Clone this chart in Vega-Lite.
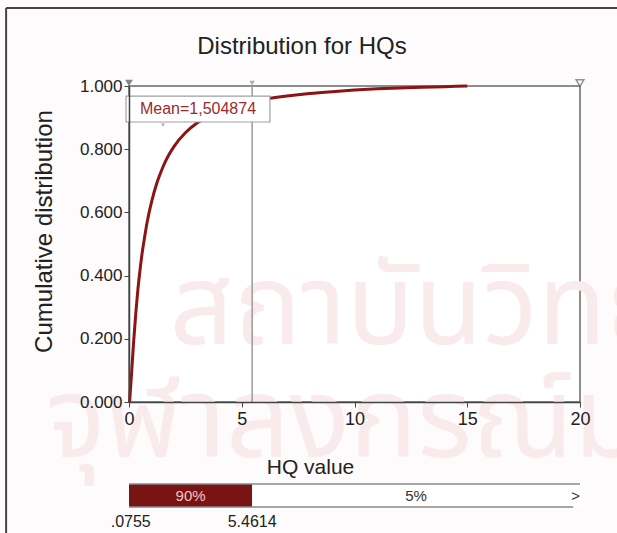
{
  "$schema": "https://vega.github.io/schema/vega-lite/v6.json",
  "width": 451,
  "height": 316,
  "autosize": {"type": "none"},
  "padding": {"left": 129, "top": 86, "right": 37, "bottom": 131},
  "background": "#fdfbfb",
  "config": {
    "view": {"stroke": "#6a6a6a", "strokeWidth": 1.5, "fill": "#ffffff"},
    "font": "Liberation Sans"
  },
  "datasets": {
    "curve": [
      {"hq": 0.03, "cum": 0.0},
      {"hq": 0.05, "cum": 0.025},
      {"hq": 0.0755, "cum": 0.05},
      {"hq": 0.1, "cum": 0.076},
      {"hq": 0.15, "cum": 0.13},
      {"hq": 0.2, "cum": 0.185},
      {"hq": 0.3, "cum": 0.28},
      {"hq": 0.4, "cum": 0.36},
      {"hq": 0.5, "cum": 0.425},
      {"hq": 0.6, "cum": 0.48},
      {"hq": 0.7, "cum": 0.525},
      {"hq": 0.8, "cum": 0.567},
      {"hq": 1.0, "cum": 0.633},
      {"hq": 1.25, "cum": 0.696},
      {"hq": 1.5, "cum": 0.743},
      {"hq": 1.75, "cum": 0.78},
      {"hq": 2.0, "cum": 0.809},
      {"hq": 2.5, "cum": 0.852},
      {"hq": 3.0, "cum": 0.882},
      {"hq": 3.5, "cum": 0.904},
      {"hq": 4.0, "cum": 0.92},
      {"hq": 4.5, "cum": 0.933},
      {"hq": 5.0, "cum": 0.943},
      {"hq": 5.4614, "cum": 0.95},
      {"hq": 6.0, "cum": 0.958},
      {"hq": 7.0, "cum": 0.968},
      {"hq": 8.0, "cum": 0.976},
      {"hq": 9.0, "cum": 0.982},
      {"hq": 10.0, "cum": 0.987},
      {"hq": 11.0, "cum": 0.991},
      {"hq": 12.0, "cum": 0.994},
      {"hq": 13.0, "cum": 0.996},
      {"hq": 14.0, "cum": 0.998},
      {"hq": 15.0, "cum": 1.0}
    ],
    "segments": [
      {"lo": 0, "hi": 5.4614, "pct": "90%"},
      {"lo": 5.4614, "hi": 20, "pct": "5%"}
    ],
    "bounds": [
      {"v": 0.0755, "label": ".0755"},
      {"v": 5.4614, "label": "5.4614"}
    ],
    "watermark": [
      {"line": "สถาบันวิทยบริการ", "wx": 1.8, "wy": 0.184},
      {"line": "จุฬาลงกรณ์มหาวิทยาลัย", "wx": -3.68, "wy": -0.174}
    ],
    "heading": [{"t": "Distribution for HQs", "tx": 7.67, "ty": 1.101}],
    "mean": [{"mean": 1.504874, "label": "Mean=1,504874"}]
  },
  "layer": [
    {
      "data": {"name": "watermark"},
      "mark": {"type": "text", "fontSize": 112, "color": "#f9eaec", "align": "left", "baseline": "alphabetic", "font": "Noto Sans Thai, Noto Sans, DejaVu Sans"},
      "encoding": {
        "x": {"field": "wx", "type": "quantitative"},
        "y": {"field": "wy", "type": "quantitative"},
        "text": {"field": "line"}
      }
    },
    {
      "data": {"name": "bounds"},
      "transform": [{"filter": "datum.v > 1"}],
      "mark": {"type": "rule", "color": "#9a9a9a", "strokeWidth": 1.5},
      "encoding": {
        "x": {"field": "v", "type": "quantitative"},
        "y": {"datum": 0},
        "y2": {"datum": 1}
      }
    },
    {
      "data": {"name": "curve"},
      "mark": {"type": "line", "color": "#8c1414", "strokeWidth": 3, "interpolate": "monotone"},
      "encoding": {
        "x": {
          "field": "hq",
          "type": "quantitative",
          "scale": {"domain": [0, 20], "nice": false, "zero": false},
          "axis": {
            "title": "HQ value",
            "values": [0, 5, 10, 15, 20],
            "format": "d",
            "grid": false,
            "zindex": 1,
            "labelFlush": false,
            "labelFontSize": 18,
            "labelColor": "#222222",
            "labelPadding": 3,
            "tickSize": 5,
            "tickColor": "#444444",
            "domainColor": "#444444",
            "domainWidth": 1.5,
            "titleFontSize": 21,
            "titleFontWeight": "normal",
            "titleColor": "#222222",
            "titleX": 181,
            "titleY": 71,
            "titleBaseline": "alphabetic",
            "titleAlign": "center"
          }
        },
        "y": {
          "field": "cum",
          "type": "quantitative",
          "scale": {"domain": [0, 1], "nice": false, "zero": false},
          "axis": {
            "title": "Cumulative distribution",
            "values": [0, 0.2, 0.4, 0.6, 0.8, 1],
            "format": ".3f",
            "grid": false,
            "zindex": 1,
            "labelFlush": false,
            "labelFontSize": 17,
            "labelColor": "#222222",
            "labelPadding": 2,
            "tickSize": 5,
            "tickColor": "#444444",
            "domainColor": "#444444",
            "domainWidth": 1.5,
            "titleFontSize": 24,
            "titleFontWeight": "normal",
            "titleColor": "#222222",
            "titleX": -85,
            "titleY": 145,
            "titleAngle": -90,
            "titleBaseline": "middle",
            "titleAlign": "center"
          }
        }
      }
    },
    {
      "data": {"name": "heading"},
      "mark": {"type": "text", "fontSize": 24, "color": "#222222", "align": "center", "baseline": "alphabetic"},
      "encoding": {
        "x": {"field": "tx", "type": "quantitative"},
        "y": {"field": "ty", "type": "quantitative"},
        "text": {"field": "t"}
      }
    },
    {
      "data": {"name": "mean"},
      "mark": {"type": "rect", "fill": "#ffffff", "stroke": "#a0a0a0", "strokeWidth": 1.2},
      "encoding": {
        "x": {"datum": -0.13},
        "x2": {"datum": 6.25},
        "y": {"datum": 0.968},
        "y2": {"datum": 0.886}
      }
    },
    {
      "data": {"name": "mean"},
      "mark": {"type": "text", "fontSize": 16, "color": "#9a2a2e", "align": "center", "baseline": "middle"},
      "encoding": {
        "x": {"datum": 3.06},
        "y": {"datum": 0.927},
        "text": {"field": "label"}
      }
    },
    {
      "data": {"name": "mean"},
      "mark": {"type": "point", "shape": "triangle-down", "size": 14, "filled": true, "color": "#888888", "yOffset": 3},
      "encoding": {
        "x": {"field": "mean", "type": "quantitative"},
        "y": {"datum": 0.886}
      }
    },
    {
      "data": {"values": [{"m": 0}]},
      "mark": {"type": "point", "shape": "triangle-down", "size": 60, "filled": true, "color": "#555555", "yOffset": -3},
      "encoding": {
        "x": {"field": "m", "type": "quantitative"},
        "y": {"datum": 1}
      }
    },
    {
      "data": {"name": "bounds"},
      "transform": [{"filter": "datum.v > 1"}],
      "mark": {"type": "point", "shape": "triangle-down", "size": 30, "filled": true, "color": "#8a8a8a", "yOffset": -3},
      "encoding": {
        "x": {"field": "v", "type": "quantitative"},
        "y": {"datum": 1}
      }
    },
    {
      "data": {"values": [{"m": 20}]},
      "mark": {"type": "point", "shape": "triangle-down", "size": 60, "filled": true, "fill": "#ffffff", "stroke": "#666666", "strokeWidth": 1.5, "yOffset": -3},
      "encoding": {
        "x": {"field": "m", "type": "quantitative"},
        "y": {"datum": 1}
      }
    },
    {
      "data": {"name": "segments"},
      "mark": {"type": "rect"},
      "encoding": {
        "x": {"field": "lo", "type": "quantitative"},
        "x2": {"field": "hi"},
        "y": {"datum": -0.2595},
        "y2": {"datum": -0.332},
        "fill": {"field": "pct", "type": "nominal", "scale": {"domain": ["90%", "5%"], "range": ["#7a1414", "#ffffff"]}, "legend": null}
      }
    },
    {
      "data": {"values": [{"a": 0, "b": 20}]},
      "mark": {"type": "rule", "color": "#8a8a8a", "strokeWidth": 1.5},
      "encoding": {
        "x": {"field": "a", "type": "quantitative"},
        "x2": {"field": "b"},
        "y": {"datum": -0.2595}
      }
    },
    {
      "data": {"values": [{"a": 0, "b": 19.7}]},
      "mark": {"type": "rule", "color": "#8a8a8a", "strokeWidth": 1.5},
      "encoding": {
        "x": {"field": "a", "type": "quantitative"},
        "x2": {"field": "b"},
        "y": {"datum": -0.332}
      }
    },
    {
      "data": {"name": "segments"},
      "transform": [{"calculate": "(datum.lo + datum.hi) / 2", "as": "mid"}],
      "mark": {"type": "text", "fontSize": 15, "baseline": "middle", "align": "center"},
      "encoding": {
        "x": {"field": "mid", "type": "quantitative"},
        "y": {"datum": -0.296},
        "text": {"field": "pct"},
        "color": {"field": "pct", "type": "nominal", "scale": {"domain": ["90%", "5%"], "range": ["#f2c4c4", "#333333"]}, "legend": null}
      }
    },
    {
      "data": {"values": [{"s": ">", "p": 20}]},
      "mark": {"type": "text", "fontSize": 15, "baseline": "middle", "align": "right", "color": "#333333"},
      "encoding": {
        "x": {"field": "p", "type": "quantitative"},
        "y": {"datum": -0.296},
        "text": {"field": "s"}
      }
    },
    {
      "data": {"name": "bounds"},
      "mark": {"type": "text", "fontSize": 16, "baseline": "middle", "align": "center", "color": "#222222"},
      "encoding": {
        "x": {"field": "v", "type": "quantitative"},
        "y": {"datum": -0.38},
        "text": {"field": "label"}
      }
    },
    {
      "data": {"values": [{"a": -5.45, "b": 22}]},
      "mark": {"type": "rule", "color": "#444444", "strokeWidth": 2},
      "encoding": {
        "x": {"field": "a", "type": "quantitative"},
        "x2": {"field": "b"},
        "y": {"datum": 1.247}
      }
    },
    {
      "data": {"values": [{"a": -5.45}]},
      "mark": {"type": "rule", "color": "#444444", "strokeWidth": 2},
      "encoding": {
        "x": {"field": "a", "type": "quantitative"},
        "y": {"datum": 1.247},
        "y2": {"datum": -0.45}
      }
    }
  ]
}
